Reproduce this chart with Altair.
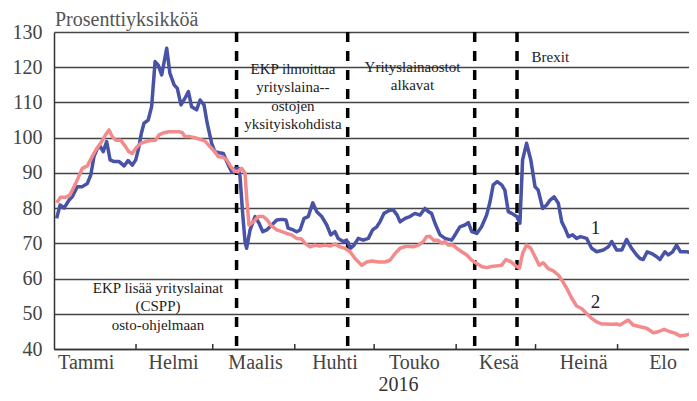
import altair as alt
import pandas as pd

# ---------------- data (days since 2016-01-01, value in percentage points) ----
blue_day = [1.0, 2.3, 3.8, 5.7, 6.9, 8.8, 10.7, 12.6, 13.9, 15.1, 16.4, 17.6, 18.6, 19.9,
            21.2, 22.7, 24.6, 26.5, 28.0, 29.6, 30.9, 32.1, 33.0, 34.0, 35.6, 36.9, 38.2,
            39.4, 40.7, 42.6, 43.8, 45.4, 46.6, 48.0, 49.5, 50.8, 52.0, 53.9, 55.2, 56.7,
            57.9, 59.6, 60.8, 62.5, 64.0, 65.9, 67.2, 68.4, 69.7, 70.3, 71.3, 72.2, 72.8,
            74.1, 76.0, 77.5, 78.9, 80.4, 82.3, 84.2, 86.1, 87.7, 88.5, 90.4, 91.7, 93.0,
            94.5, 96.1, 97.8, 99.3, 101.2, 103.1, 104.6, 106.2, 107.4, 109.3, 110.6, 112.1,
            113.4, 115.0, 116.9, 118.8, 120.4, 122.0, 123.2, 124.7, 126.7, 128.2, 129.7,
            130.8, 132.7, 134.5, 136.4, 138.3, 140.2, 141.5, 142.7, 144.0, 145.9, 147.8,
            150.3, 151.9, 153.4, 155.3, 156.6, 157.9, 159.8, 161.6, 163.5, 164.8, 166.0,
            167.5, 169.2, 170.4, 171.7, 173.0, 174.9, 176.1, 177.1, 178.6, 180.2, 181.8,
            183.0, 184.7, 186.2, 187.5, 189.0, 190.6, 191.9, 193.1, 194.4, 196.0, 197.5,
            199.0, 201.3, 203.2, 205.1, 207.6, 209.5, 210.8, 212.7, 214.6, 216.4, 218.3,
            220.2, 221.5, 222.7, 224.2, 225.9, 227.8, 229.0, 230.9, 232.2, 233.8, 235.3,
            236.8, 239.1, 241.0, 242.9]
blue_val = [77.1, 80.9, 80.0, 82.3, 83.2, 86.1, 86.1, 87.0, 89.4, 94.6, 97.0, 97.4, 96.0, 98.9,
            93.7, 93.2, 93.2, 92.0, 93.5, 92.2, 93.7, 97.4, 101.2, 104.1, 105.0, 108.8, 121.6,
            120.6, 117.8, 125.4, 118.3, 115.0, 114.0, 109.3, 111.2, 113.1, 108.8, 107.9, 110.7, 109.3,
            104.1, 98.4, 96.0, 95.7, 95.5, 92.2, 90.3, 91.3, 91.3, 89.0, 78.5, 70.5, 68.6,
            73.8, 77.6, 75.7, 73.3, 73.8, 75.2, 76.6, 76.8, 76.6, 74.3, 73.8, 73.3, 73.8,
            77.1, 77.6, 81.5, 79.0, 77.6, 75.2, 72.4, 73.3, 71.4, 70.5, 70.9, 68.6,
            69.5, 71.4, 70.9, 71.4, 73.8, 74.7, 76.1, 78.5, 79.3, 79.5, 78.0,
            76.1, 77.1, 77.6, 78.5, 78.0, 79.9, 79.0, 78.5, 75.7, 72.4, 71.4,
            70.9, 72.8, 74.7, 75.2, 75.9, 73.3, 72.8, 74.7, 78.0, 81.8, 86.6,
            87.5, 86.6, 85.1, 79.0, 78.5, 77.6, 75.7, 93.7, 98.4, 93.7, 86.1,
            85.1, 79.9, 80.9, 82.3, 83.2, 81.4, 76.1, 74.3, 71.9, 72.4, 71.4,
            71.9, 71.4, 68.6, 67.6, 68.1, 69.0, 70.5, 68.1, 68.1, 71.1, 68.6,
            66.7, 65.7, 65.4, 67.6, 67.1, 66.2, 65.4, 67.6, 66.7, 67.6, 69.5,
            67.6, 67.6, 67.3, 67.0]

pink_day = [1.0, 2.5, 4.4, 6.0, 7.6, 9.1, 10.7, 12.6, 14.1, 15.8, 17.6, 19.5, 20.8, 22.0,
            23.3, 25.2, 27.1, 28.3, 29.6, 30.9, 32.8, 34.7, 36.5, 38.4, 39.7, 41.6, 43.5,
            45.4, 47.2, 48.5, 49.5, 51.4, 53.3, 55.2, 57.1, 59.0, 60.8, 62.1, 63.8, 65.3,
            66.5, 67.8, 69.3, 70.9, 72.2, 72.8, 73.7, 75.3, 77.2, 79.1, 80.6, 81.9, 84.2,
            86.1, 87.9, 89.8, 91.7, 93.6, 94.9, 96.8, 98.6, 100.5, 102.4, 104.3, 106.2,
            108.1, 110.0, 111.9, 113.8, 116.3, 118.2, 120.1, 122.6, 125.1, 127.0, 128.9,
            130.8, 133.3, 135.8, 137.7, 139.6, 140.8, 142.1, 143.4, 145.2, 146.5, 147.8,
            149.0, 150.9, 152.2, 154.1, 156.0, 157.9, 159.8, 161.6, 163.5, 165.4, 167.3,
            169.2, 170.8, 172.6, 174.2, 175.9, 177.1, 178.6, 180.2, 181.8, 183.4, 184.9,
            186.8, 188.7, 190.6, 191.9, 193.8, 195.7, 197.5, 199.4, 201.3, 203.2, 205.1,
            207.0, 208.9, 210.8, 212.7, 213.9, 215.8, 217.0, 218.9, 221.5, 224.0, 226.5,
            228.4, 230.6, 232.8, 234.7, 236.6, 239.1, 241.0, 242.9]
pink_val = [81.5, 83.1, 83.1, 83.7, 86.1, 88.5, 91.3, 92.0, 94.2, 96.5, 98.4, 100.8, 102.2, 100.3,
            99.3, 99.3, 97.4, 96.0, 95.5, 97.0, 98.4, 98.9, 99.2, 99.3, 100.8, 101.4, 101.7,
            101.7, 101.7, 101.4, 100.3, 100.3, 100.0, 99.5, 99.0, 97.4, 96.0, 94.6, 94.5, 93.7,
            92.2, 90.8, 90.3, 91.3, 89.9, 83.2, 75.2, 76.1, 77.6, 77.6, 76.6, 75.2, 73.8,
            73.3, 72.8, 72.4, 71.4, 71.2, 70.0, 69.0, 69.5, 69.2, 69.5, 69.2, 69.8,
            69.0, 68.6, 67.6, 65.7, 63.8, 64.7, 65.0, 64.7, 64.7, 65.2, 67.1,
            68.6, 69.2, 69.0, 69.5, 70.5, 71.9, 72.0, 70.9, 70.9, 70.0, 70.5,
            69.5, 69.5, 68.6, 67.6, 66.7, 65.2, 64.3, 63.4, 63.1, 63.4, 63.6,
            63.8, 65.4, 64.8, 63.8, 62.9, 67.1, 69.5, 68.6, 66.2, 63.8, 64.5,
            62.8, 62.2, 61.0, 59.6, 57.2, 54.4, 52.2, 51.5, 50.1, 48.7, 47.7,
            47.1, 47.1, 47.0, 47.1, 46.8, 47.7, 48.2, 46.8, 46.3, 45.9, 44.6,
            44.9, 45.6, 44.9, 44.5, 43.7, 44.0, 44.3, 44.0]

event_dates = ["2016-03-10", "2016-04-21", "2016-06-08", "2016-06-24"]
month_start_dates = ["2016-02-01", "2016-03-01", "2016-04-01", "2016-05-01",
                     "2016-06-01", "2016-07-01", "2016-08-01"]
month_names = ["Tammi", "Helmi", "Maalis", "Huhti", "Touko", "Kesä", "Heinä", "Elo"]
month_label_days = [13, 15, 17, 16, 16, 17, 19, 18]
y_ticks = [40, 50, 60, 70, 80, 90, 100, 110, 120, 130]

ann_text = ["EKP ilmoittaa\nyrityslaina--\nostojen\nyksityiskohdista",
            "Yrityslainaostot\nalkavat",
            "Brexit",
            "EKP lisää yrityslainat\n(CSPP)\nosto-ohjelmaan"]
ann_day = [90.3, 135.5, 187.6, 39.3]
ann_val = [119.5, 120.2, 122.9, 57.4]

series_text = ["1", "2"]
series_day = [204.7, 204.7]
series_val = [74.3, 53.4]

y_title = "Prosenttiyksikköä"
x_title = "2016"

# ---------------- styling ----------------
BLUE = "#4852a6"
PINK = "#f38a8c"
FONT = "Liberation Serif"
START = pd.Timestamp("2016-01-01")


def to_dates(days):
    return [(START + pd.to_timedelta(d, unit="D")).strftime("%Y-%m-%dT%H:%M:%S") for d in days]


blue_df = pd.DataFrame({"date": to_dates(blue_day), "value": blue_val})
pink_df = pd.DataFrame({"date": to_dates(pink_day), "value": pink_val})
events_df = pd.DataFrame({"date": [d + "T00:00:00" for d in event_dates]})
ticks_df = pd.DataFrame({"date": [d + "T00:00:00" for d in month_start_dates]})
ann_df = pd.DataFrame({"date": to_dates(ann_day), "value": ann_val, "text": ann_text})
ser_df = pd.DataFrame({"date": to_dates(series_day), "value": series_val, "text": series_text})
title_df = pd.DataFrame({"text": [y_title]})

label_values = [alt.DateTime(year=2016, month=i + 1, date=d) for i, d in enumerate(month_label_days)]
names_js = "[" + ",".join("'" + n + "'" for n in month_names) + "]"

X_SCALE = alt.Scale(domain=[alt.DateTime(year=2016, month=1, date=1),
                            alt.DateTime(year=2016, month=8, date=28)])
X_AXIS = alt.Axis(
    values=label_values,
    labelExpr=names_js + "[month(datum.value)]",
    ticks=False, grid=False, domain=True,
    domainColor="#333333", domainWidth=1.5,
    labelFont=FONT, labelFontSize=20, labelColor="#444444", labelPadding=3,
    labelOverlap=False, labelFlush=False,
    title=x_title, titleFont=FONT, titleFontSize=20, titleFontWeight="normal",
    titleColor="#333333", titlePadding=2, titleX=344,
)
Y_SCALE = alt.Scale(domain=[40, 130], nice=False, zero=False)
Y_AXIS = alt.Axis(
    values=y_ticks,
    grid=True, gridColor="#454545", gridWidth=1.4,
    ticks=False, domain=True, domainColor="#333333", domainWidth=1.5,
    labelFont=FONT, labelFontSize=20, labelColor="#444444", labelPadding=12,
    labelOverlap=False, labelFlush=False,
    title=None,
)

X = alt.X("date:T", scale=X_SCALE, axis=X_AXIS)
Y = alt.Y("value:Q", scale=Y_SCALE, axis=Y_AXIS)

month_ticks = alt.Chart(ticks_df).mark_rule(color="#333333", strokeWidth=1.5).encode(
    x=X,
    y=alt.YDatum(40, scale=Y_SCALE, axis=Y_AXIS),
    y2=alt.Y2Datum(41.4),
)
event_rules = alt.Chart(events_df).mark_rule(
    color="black", strokeWidth=3.5, strokeDash=[10, 9]
).encode(x=X)

blue_line = alt.Chart(blue_df).mark_line(
    color=BLUE, strokeWidth=3.5, strokeJoin="round", clip=True
).encode(x=X, y=Y)
pink_line = alt.Chart(pink_df).mark_line(
    color=PINK, strokeWidth=3.5, strokeJoin="round", clip=True
).encode(x=X, y=Y)

ann = alt.Chart(ann_df).mark_text(
    font=FONT, fontSize=15, color="#222222", align="center", baseline="middle",
    lineBreak="\n", lineHeight=18.5
).encode(x=X, y=Y, text="text:N")

ser = alt.Chart(ser_df).mark_text(
    font=FONT, fontSize=19, color="#222222", align="center", baseline="middle"
).encode(x=X, y=Y, text="text:N")

title = alt.Chart(title_df).mark_text(
    font=FONT, fontSize=20, color="#555555", align="left", baseline="alphabetic"
).encode(x=alt.value(1), y=alt.value(-6), text="text:N")

chart = alt.layer(
    month_ticks, event_rules, blue_line, pink_line, ann, ser, title
).properties(
    width=635, height=317,
    padding={"left": 46, "top": 24, "right": 0, "bottom": 44},
    autosize=alt.AutoSizeParams(type="none"),
).configure_view(stroke=None)

chart.save("out.html", embed_options={"renderer": "svg", "actions": False})
